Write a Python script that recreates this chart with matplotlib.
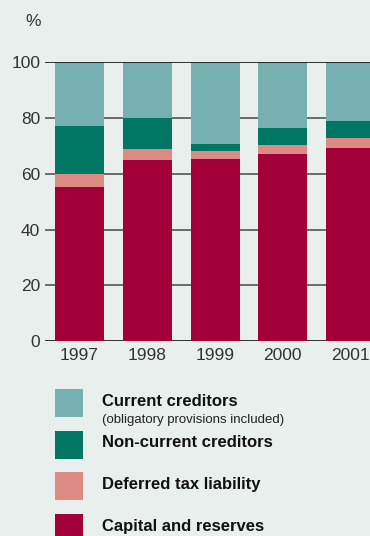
import matplotlib
matplotlib.use("Agg")
import matplotlib.pyplot as plt
from matplotlib.patches import Rectangle

years = ["1997", "1998", "1999", "2000", "2001"]
capital_reserves = [55.2, 64.9, 65.3, 67.1, 69.2]
deferred_tax = [4.7, 3.9, 2.9, 3.2, 3.6]
noncurrent_creditors = [17.3, 11.2, 2.5, 6.1, 6.1]
current_creditors = [22.8, 20.0, 29.3, 23.6, 21.1]
y_ticks = [0, 20, 40, 60, 80, 100]

series_labels = ["Current creditors", "Non-current creditors",
                 "Deferred tax liability", "Capital and reserves"]
colors = {
    "Capital and reserves": "#A3003A",
    "Deferred tax liability": "#DE8A84",
    "Non-current creditors": "#007763",
    "Current creditors": "#77B0B0",
}

plt.rcParams["font.family"] = ["Liberation Sans", "DejaVu Sans"]

bg = "#E8EFEC"
W, H = 370, 536
fig = plt.figure(figsize=(W / 100, H / 100), dpi=100, facecolor=bg)

ax_left, ax_bottom = 45 / W, (H - 341.3) / H
ax_top = (H - 62) / H
ax = fig.add_axes([ax_left, ax_bottom, 1 - ax_left, ax_top - ax_bottom])
ax.set_facecolor(bg)

x = list(range(len(years)))
step = 67.75
ax.set_xlim(-(79.5 - 45) / step, (W - 79.5) / step)
ax.set_ylim(0, 100)

for t in y_ticks:
    c = "#111111" if t in (0, 100) else "#555555"
    ax.axhline(t, color=c, lw=1.2, zorder=1 if t != 100 else 3)

bw = 49 / step
bottom = [0] * len(years)
stack = [("Capital and reserves", capital_reserves),
         ("Deferred tax liability", deferred_tax),
         ("Non-current creditors", noncurrent_creditors),
         ("Current creditors", current_creditors)]
for name, vals in stack:
    ax.bar(x, vals, bw, bottom=bottom, color=colors[name], zorder=2, linewidth=0)
    bottom = [b + v for b, v in zip(bottom, vals)]

for s in ax.spines.values():
    s.set_visible(False)
ax.set_yticks(y_ticks)
ax.set_xticks(x)
ax.set_xticklabels(years)
ax.tick_params(axis="y", length=0, pad=3.5, labelsize=12.5, labelcolor="#333333")
ax.tick_params(axis="x", length=0, pad=5, labelsize=12.5, labelcolor="#333333")

fig.text(33 / W, 1 - 22 / H, "%", ha="center", va="center",
         fontsize=12.5, color="#333333")

# legend
sw_x, sw_w, sw_h = 55, 28, 28
sw_tops = [389, 430.5, 472, 514]
for name, top in zip(series_labels, sw_tops):
    fig.patches.append(Rectangle((sw_x / W, 1 - (top + sw_h) / H), sw_w / W, sw_h / H,
                                 transform=fig.transFigure, color=colors[name],
                                 linewidth=0))
text_y = [401.5, 442.5, 485, 527]
for name, ty in zip(series_labels, text_y):
    fig.text(102 / W, 1 - ty / H, name, ha="left", va="center",
             fontsize=12, fontweight="bold", color="#111111")
fig.text(102 / W, 1 - 420 / H, "(obligatory provisions included)", ha="left",
         va="center", fontsize=9.5, color="#222222")

fig.savefig("out.png", dpi=100, facecolor=bg)
